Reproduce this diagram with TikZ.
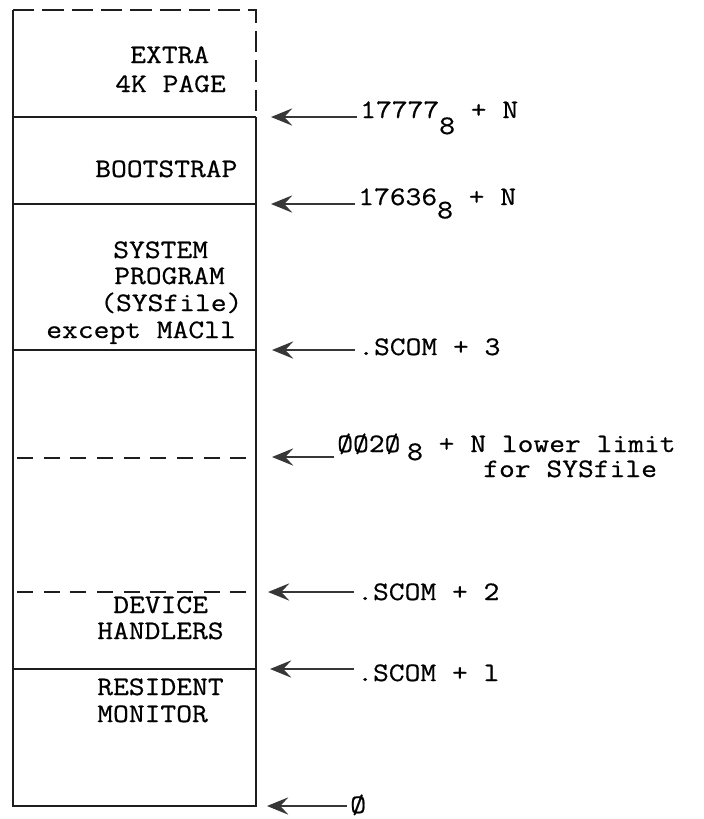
\documentclass[tikz,border=0pt]{standalone}
\usepackage{fontspec}
\setmonofont[FakeStretch=1.15,FakeBold=0.6]{Latin Modern Mono}
\usepackage{tikz}
\usetikzlibrary{arrows.meta}
\definecolor{inkline}{RGB}{30,30,30}
\definecolor{inkarrow}{RGB}{55,55,55}
\newcommand{\lowsub}[2][9pt]{\raisebox{-#1}{#2}}

\begin{document}
\begin{tikzpicture}[x=0.75pt,y=-0.75pt,
  wall/.style={inkline,line width=1.5pt},
  gapline/.style={wall,dash pattern=on 12pt off 8pt},
  region/.style={font=\ttfamily\fontsize{20}{22}\selectfont,inner sep=0pt,anchor=base west},
  addr/.style={region,inner xsep=2.25pt},
  ptr/.style={inkarrow,line width=1.3pt,-{Stealth[length=16pt,width=13pt,inset=6pt]}}]
  \useasboundingbox (0,0) rectangle (704,819);
  % memory column
  \draw[wall,dash pattern=on 16pt off 6pt] (13,10) -- (256,10) -- (256,117);
  \draw[wall] (13,10) -- (13,806) -- (256,806) -- (256,117);
  \foreach \y in {117,204,350,669}
    \draw[wall] (13,\y) -- (256,\y);
  \foreach \y in {458,592}
    \draw[gapline] (17,\y) -- (256,\y);
  % region names
  \node[region] (extra) at (130,63) {EXTRA};
  \node[region] (page) at (115,92) {4K PAGE};
  \node[region] (boot) at (95,177) {BOOTSTRAP};
  \node[region] (sysa) at (113,258) {SYSTEM};
  \node[region] (sysb) at (114,284) {PROGRAM};
  \node[region] (sysc) at (100,311) {(SYSfile)};
  \node[region] (sysd) at (46,338) {except MACll};
  \node[region] (deva) at (113,613) {DEVICE};
  \node[region] (devb) at (97,639) {HANDLERS};
  \node[region] (resa) at (97,695) {RESIDENT};
  \node[region] (resb) at (97,722) {MONITOR};
  % addresses
  \node[addr] (l17777) at (357,118) {17777\lowsub[12pt]{8} + N};
  \node[addr] (l17636) at (355,205) {17636\lowsub[10pt]{8} + N};
  \node[addr] (lscomc) at (355,355) {.SCOM + 3};
  \node[addr] (llow) at (334,452) {ØØ2Ø\hspace{5pt}\lowsub[6pt]{8} + N lower limit};
  \node[region] (lfor) at (483,477) {for SYSfile};
  \node[addr] (lscomb) at (354,600) {.SCOM + 2};
  \node[addr] (lscoma) at (354,681) {.SCOM + l};
  \node[addr] (lzero) at (347,813) {Ø};
  \coordinate (p17777) at (271,117);
  \coordinate (p17636) at (271,204);
  \coordinate (pscomc) at (272,350);
  \coordinate (plow) at (272,457);
  \coordinate (pscomb) at (268,592);
  \coordinate (pscoma) at (270,669);
  \coordinate (pzero) at (267,806);
  \foreach \lbl/\pt in {l17777/p17777,l17636/p17636,lscomc/pscomc,llow/plow,lscomb/pscomb,lscoma/pscoma,lzero/pzero}
    \draw[ptr] (\lbl.west |- \pt) -- (\pt);
\end{tikzpicture}
\end{document}
